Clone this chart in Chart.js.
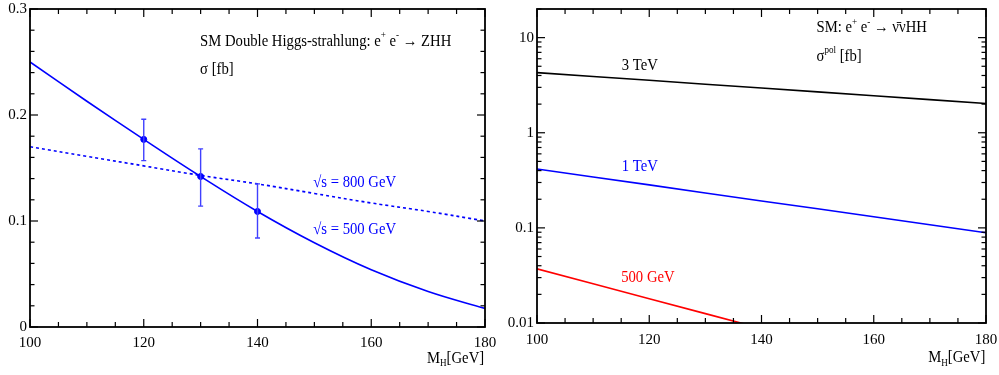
<!DOCTYPE html>
<html><head><meta charset="utf-8">
<script src="https://cdn.jsdelivr.net/npm/chart.js@4/dist/chart.umd.min.js"></script>
<style>
html,body{margin:0;padding:0;background:#fff;}
#wrap{position:relative;width:999px;height:375px;overflow:hidden;background:#fff;}
.box{position:absolute;top:0;height:375px;width:499px;}
</style></head><body>
<div id="wrap">
<div class="box" style="left:0"><canvas id="c1"></canvas></div>
<div class="box" style="left:500px"><canvas id="c2"></canvas></div>
</div>
<script>
// ---- data (left panel: e+e- -> ZHH) ----
const mh = [100,110,120,130,140,150,160,170,180];
const sigma500 = [0.250,0.213,0.177,0.142,0.109,0.0795,0.054,0.0335,0.0175];
const sigma800 = [0.170,0.161,0.152,0.143,0.135,0.126,0.117,0.109,0.100];
const mhPts = [120,130,140];
const ptVals = [0.177,0.142,0.109];
const ptLo = [0.157,0.114,0.084];
const ptHi = [0.196,0.168,0.135];
const yTicksLeft = [0,0.1,0.2,0.3];
// ---- data (right panel: e+e- -> vvHH) ----
const mhR = [100,120,140,160,180];
const vv3TeV = [4.29,3.56,2.95,2.45,2.03];
const vv1TeV = [0.416,0.283,0.192,0.131,0.0887];
const mhR500 = [100,120,140];
const vv500 = [0.0371,0.0180,0.00875];
const yTicksRight = [0.01,0.1,1,10];
const xTicks = [100,120,140,160,180];

const FONT = "'Liberation Serif','Times New Roman',serif";
const BLUE = '#0000ff', RED = '#ff0000';

function pts(xs, ys){ return xs.map((x,i)=>({x:x,y:ys[i]})); }

function drawRich(ctx, x, y, segs, color, size, sx){
  ctx.save();
  ctx.translate(x,y);
  ctx.scale(sx,1);
  ctx.fillStyle = color;
  ctx.textBaseline = 'middle';
  ctx.textAlign = 'left';
  let cx = 0;
  segs.forEach(s=>{
    let fs = size, dy = 0;
    if (s.sup){ fs = size*0.62; dy = -size*0.38; }
    if (s.sub){ fs = size*0.62; dy = size*0.32; }
    ctx.font = fs + 'px ' + FONT;
    ctx.fillText(s.t, cx, dy);
    cx += ctx.measureText(s.t).width;
  });
  ctx.restore();
}

const framePlugin = {
  id:'frame',
  afterDatasetsDraw(chart, args, opts){
    const {ctx, chartArea:a, scales:{x,y}} = chart;
    ctx.save();
    ctx.strokeStyle = '#000';
    ctx.lineWidth = 1.2;
    const line=(x1,y1,x2,y2)=>{ctx.beginPath();ctx.moveTo(x1,y1);ctx.lineTo(x2,y2);ctx.stroke();};
    for (let v=100; v<=180; v+=5){
      const p = x.getPixelForValue(v);
      const L = (v%20===0)?8:5;
      line(p,a.bottom,p,a.bottom-L);
      line(p,a.top,p,a.top+L);
    }
    let yv = [];
    if (y.type==='logarithmic'){
      [0.01,0.1,1,10].forEach(d=>{ for(let k=1;k<=9;k++){ const v=k*d; if (v<=y.max*1.0001) yv.push({v:v,major:k===1}); } });
    } else {
      for (let i=0;i<=15;i++){ yv.push({v:i*0.02, major:i%5===0}); }
    }
    yv.forEach(o=>{
      const p = y.getPixelForValue(o.v);
      const L = o.major?8:4.5;
      line(a.left,p,a.left+L,p);
      line(a.right,p,a.right-L,p);
    });
    ctx.lineWidth = 1.8;
    ctx.strokeRect(a.left,a.top,a.right-a.left,a.bottom-a.top);
    ctx.restore();
  },
  afterDraw(chart, args, opts){
    const {ctx, scales:{x,y}} = chart;
    (opts.texts||[]).forEach(t=>{
      drawRich(ctx, x.getPixelForValue(t.x), y.getPixelForValue(t.y), t.segs, t.color, t.size||16.5, t.sx||0.89);
    });
  }
};

const errPlugin = {
  id:'errbars',
  afterDatasetsDraw(chart, args, opts){
    if (!opts.lo) return;
    const {ctx, scales:{x,y}} = chart;
    ctx.save();
    ctx.strokeStyle = '#4040ff';
    ctx.lineWidth = 1.4;
    opts.xs.forEach((xv,i)=>{
      const px = x.getPixelForValue(xv);
      const p1 = y.getPixelForValue(opts.lo[i]), p2 = y.getPixelForValue(opts.hi[i]);
      ctx.beginPath();
      ctx.moveTo(px,p1); ctx.lineTo(px,p2);
      ctx.moveTo(px-2.5,p1); ctx.lineTo(px+2.5,p1);
      ctx.moveTo(px-2.5,p2); ctx.lineTo(px+2.5,p2);
      ctx.stroke();
    });
    ctx.restore();
  }
};

function xScale(h, pad){
  return {
    type:'linear', min:100, max:180,
    afterBuildTicks: s => { s.ticks = xTicks.map(v=>({value:v})); },
    ticks:{ font:{family:FONT,size:15}, color:'#000', padding:pad, maxRotation:0, autoSkip:false,
            callback: v => String(v) },
    grid:{ display:false, drawTicks:false }, border:{ display:false },
    afterFit: s => { s.height = h; s.paddingLeft = 0; s.paddingRight = 0; }
  };
}
function yScale(type, min, max, tickVals, w){
  return { type:type, min:min, max:max,
    afterBuildTicks: s => { s.ticks = tickVals.map(v=>({value:v})); },
    ticks:{ font:{family:FONT,size:15}, color:'#000', padding:3, callback: v => String(v) },
    grid:{ display:false, drawTicks:false }, border:{ display:false },
    afterFit: s => { s.width = w; s.paddingTop = 0; s.paddingBottom = 0; } };
}

Chart.defaults.animation = false;

new Chart(document.getElementById('c1'), {
  type:'line',
  data:{ datasets:[
    { data: pts(mh, sigma500), borderColor:BLUE, borderWidth:1.6, pointRadius:0, tension:0.4, fill:false },
    { data: pts(mh, sigma800), borderColor:BLUE, borderWidth:1.6, borderDash:[3,3], pointRadius:0, tension:0.4, fill:false },
    { data: pts(mhPts, ptVals), showLine:false, pointRadius:3, pointBackgroundColor:BLUE, pointBorderColor:BLUE, borderColor:BLUE }
  ]},
  options:{
    responsive:true, maintainAspectRatio:false, animation:false,
    layout:{ padding:{ top:9, right:14, left:0, bottom:0 } },
    plugins:{ legend:{display:false}, tooltip:{enabled:false},
      errbars:{ xs:mhPts, lo:ptLo, hi:ptHi },
      frame:{ texts:[
        { x:129.9, y:0.269, color:'#000', segs:[{t:'SM Double Higgs-strahlung: e'},{t:'+',sup:true},{t:' e'},{t:'-',sup:true},{t:' \u2192 ZHH'}] },
        { x:129.9, y:0.2425, color:'#000', segs:[{t:'\u03c3 [fb]'}] },
        { x:149.8, y:0.136, color:BLUE, segs:[{t:'\u221as = 800 GeV'}] },
        { x:149.8, y:0.0915, color:BLUE, segs:[{t:'\u221as = 500 GeV'}] },
        { x:169.8, y:-0.0295, color:'#000', segs:[{t:'M'},{t:'H',sub:true},{t:'[GeV]'}] }
      ]}
    },
    scales:{ x: xScale(48, 7), y: yScale('linear', 0, 0.3, yTicksLeft, 30) }
  },
  plugins:[framePlugin, errPlugin]
});

new Chart(document.getElementById('c2'), {
  type:'line',
  data:{ datasets:[
    { data: pts(mhR, vv3TeV), borderColor:'#000', borderWidth:1.6, pointRadius:0, tension:0.3, fill:false },
    { data: pts(mhR, vv1TeV), borderColor:BLUE, borderWidth:1.6, pointRadius:0, tension:0.3, fill:false },
    { data: pts(mhR500, vv500), borderColor:RED, borderWidth:1.6, pointRadius:0, tension:0.3, fill:false }
  ]},
  options:{
    responsive:true, maintainAspectRatio:false, animation:false,
    layout:{ padding:{ top:9, right:13, left:0, bottom:0 } },
    plugins:{ legend:{display:false}, tooltip:{enabled:false},
      frame:{ texts:[
        { x:149.8, y:12.6, color:'#000', segs:[{t:'SM: e'},{t:'+',sup:true},{t:' e'},{t:'-',sup:true},{t:' \u2192 \u03bd\u0304\u03bdHH'}] },
        { x:149.8, y:6.25, color:'#000', segs:[{t:'\u03c3'},{t:'pol',sup:true},{t:' [fb]'}] },
        { x:115.1, y:5.12, color:'#000', segs:[{t:'3 TeV'}] },
        { x:115.1, y:0.44, color:BLUE, segs:[{t:'1 TeV'}] },
        { x:115.0, y:0.0298, color:RED, segs:[{t:'500 GeV'}] },
        { x:169.7, y:0.00433, color:'#000', segs:[{t:'M'},{t:'H',sub:true},{t:'[GeV]'}] }
      ]}
    },
    scales:{ x: xScale(52, 8), y: yScale('logarithmic', 0.01, 20, yTicksRight, 37) }
  },
  plugins:[framePlugin]
});
</script>
</body></html>
